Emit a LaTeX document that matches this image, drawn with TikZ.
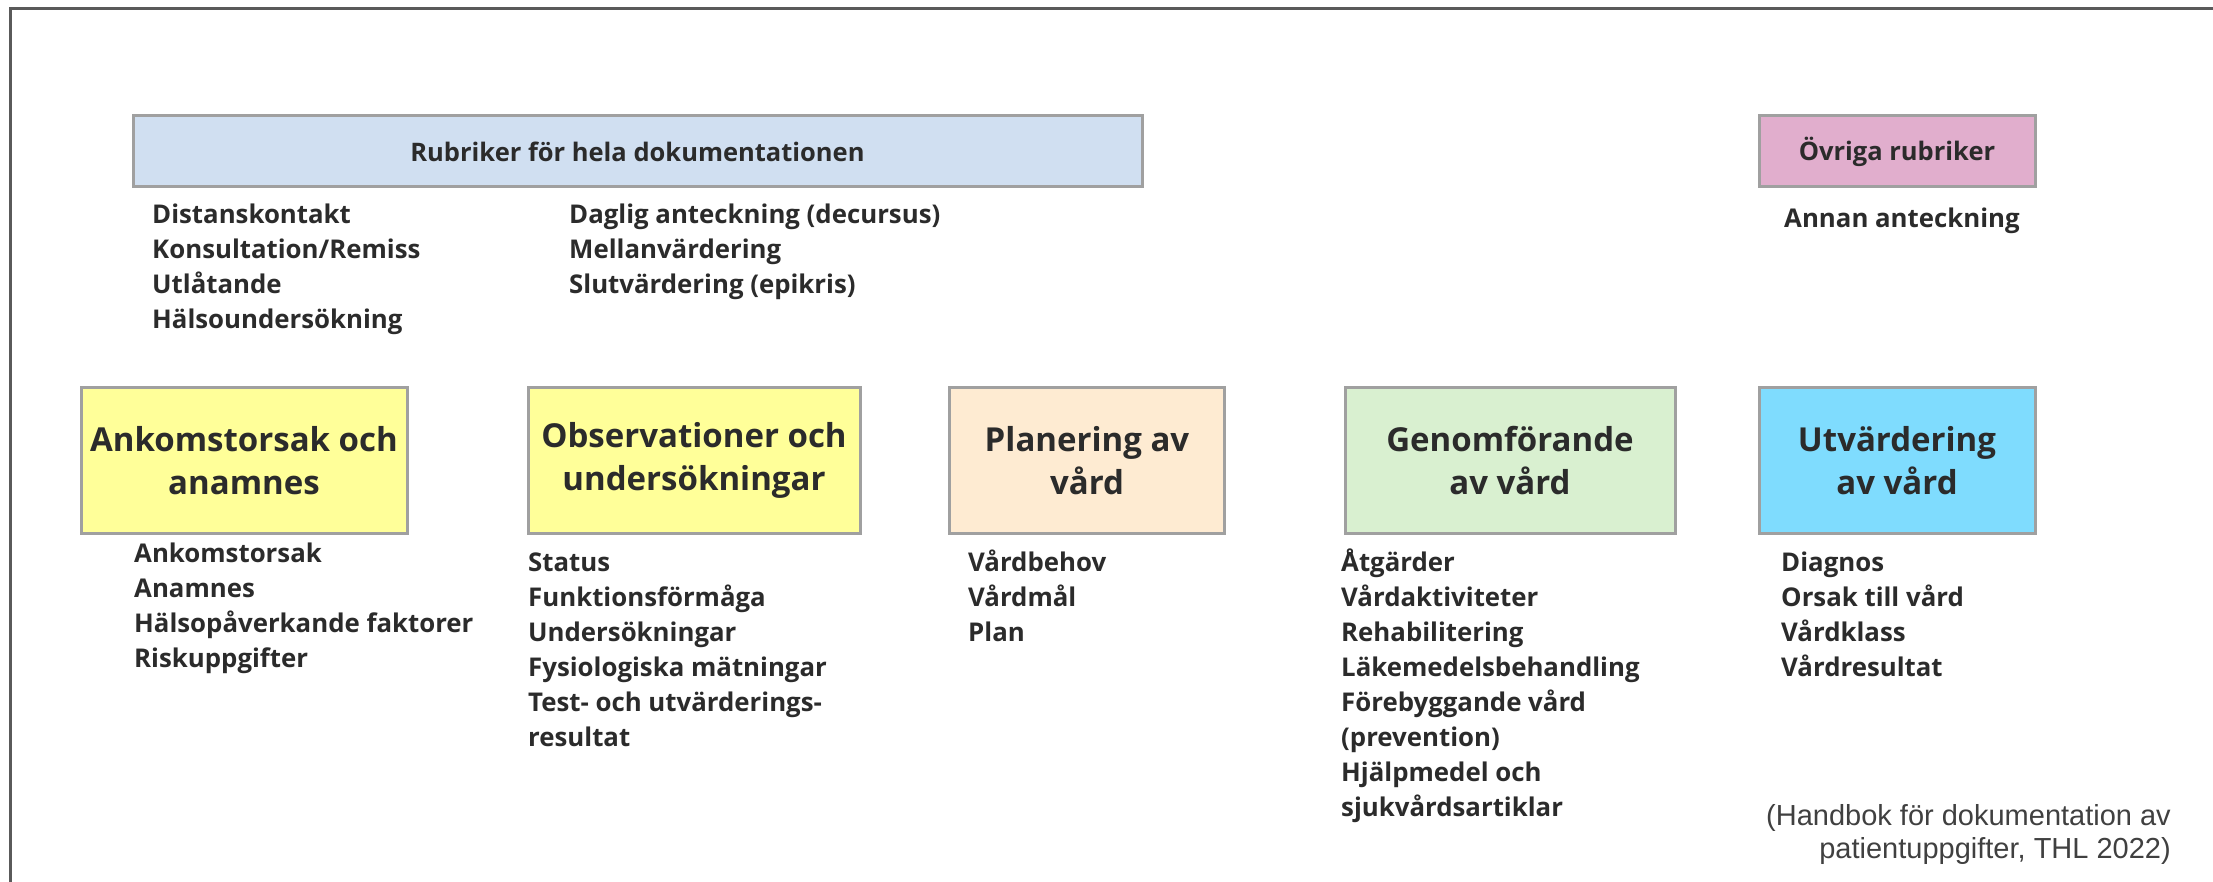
\documentclass[tikz,border=0pt]{standalone}
\usepackage{fontspec}
\setmainfont{Open Sans}
\usepackage{xcolor}
\definecolor{ink}{HTML}{2B2B2B}
\definecolor{edge}{HTML}{A0A0A0}
\definecolor{frame}{HTML}{5A5A5A}
\definecolor{dokblue}{HTML}{D0DFF1}
\definecolor{ovrpink}{HTML}{E1AECD}
\definecolor{ankyellow}{HTML}{FFFF99}
\definecolor{planbeige}{HTML}{FEEBD2}
\definecolor{genomgreen}{HTML}{D9F0D0}
\definecolor{utvblue}{HTML}{7FDCFE}
\newfontfamily\citefont{Liberation Sans}

\begin{document}
\begin{tikzpicture}[x=1pt, y=-1pt,
    headbox/.style={draw=edge, line width=3pt, inner sep=0pt, text=ink, font=\bfseries\fontsize{25.5}{30}\selectfont, minimum height=71pt},
    phasebox/.style={draw=edge, line width=3pt, inner sep=0pt, text=ink, align=center, font=\bfseries\fontsize{33}{43}\selectfont, minimum height=146pt},
    item/.style={inner sep=0pt, text=ink, anchor=base west, font=\bfseries\fontsize{25.8}{35}\selectfont}]
      \useasboundingbox (0,0) rectangle (2213,882);

      % Frame
      \draw[frame, line width=3pt] (10,882) -- (10,8.5) -- (2213,8.5);

      % Top headings
      \node[headbox, fill=dokblue, minimum width=1009pt] (dok) at (637.5,151.5) {Rubriker för hela dokumentationen};
      \node[headbox, fill=ovrpink, minimum width=276pt] (ovriga) at (1897,151.5) {Övriga rubriker};

      \foreach \txt [count=\i from 0] in {Distanskontakt, Konsultation/Remiss, Utlåtande, Hälsoundersökning}
        \node[item] (dokA-\i) at (152,224+35*\i) {\txt};
      \foreach \txt [count=\i from 0] in {Daglig anteckning (decursus), Mellanvärdering, Slutvärdering (epikris)}
        \node[item] (dokB-\i) at (569,224+35*\i) {\txt};
      \node[item, anchor=base] (annan) at (1902,228) {Annan anteckning};

      % Phases
      \node[phasebox, fill=ankyellow, minimum width=326pt] (ankomst) at (244,460.5) {Ankomstorsak och\\anamnes};
      \node[phasebox, fill=ankyellow, minimum width=332pt] (obs) at (694,460.5) {Observationer och\\undersökningar};
      \node[phasebox, fill=planbeige, minimum width=275pt] (plan) at (1087,460.5) {Planering av\\vård};
      \node[phasebox, fill=genomgreen, minimum width=330pt] (genom) at (1510,460.5) {Genomförande\\av vård};
      \node[phasebox, fill=utvblue, minimum width=276pt] (utv) at (1897,460.5) {Utvärdering\\av vård};

      % Phase headings
      \foreach \txt [count=\i from 0] in {Ankomstorsak, Anamnes, Hälsopåverkande faktorer, Riskuppgifter}
        \node[item] (ankomst-\i) at (134,562+35*\i) {\txt};
      \foreach \txt [count=\i from 0] in {Status, Funktionsförmåga, Undersökningar, Fysiologiska mätningar, Test- och utvärderings-, resultat}
        \node[item] (obs-\i) at (528,571+35*\i) {\txt};
      \foreach \txt [count=\i from 0] in {Vårdbehov, Vårdmål, Plan}
        \node[item] (plan-\i) at (968,571+35*\i) {\txt};
      \foreach \txt [count=\i from 0] in {Åtgärder, Vårdaktiviteter, Rehabilitering, Läkemedelsbehandling, Förebyggande vård, (prevention), Hjälpmedel och, sjukvårdsartiklar}
        \node[item] (genom-\i) at (1341,571+35*\i) {\txt};
      \foreach \txt [count=\i from 0] in {Diagnos, Orsak till vård, Vårdklass, Vårdresultat}
        \node[item] (utv-\i) at (1781,571+35*\i) {\txt};

      % Source
      \node[inner sep=0pt, anchor=base east, text=black!75, font=\citefont\fontsize{29}{33}\selectfont] (kalla1) at (2171,825) {(Handbok för dokumentation av};
      \node[inner sep=0pt, anchor=base east, text=black!75, font=\citefont\fontsize{29}{33}\selectfont] (kalla2) at (2171,858) {patientuppgifter, THL 2022)};
    \end{tikzpicture}
\end{document}
